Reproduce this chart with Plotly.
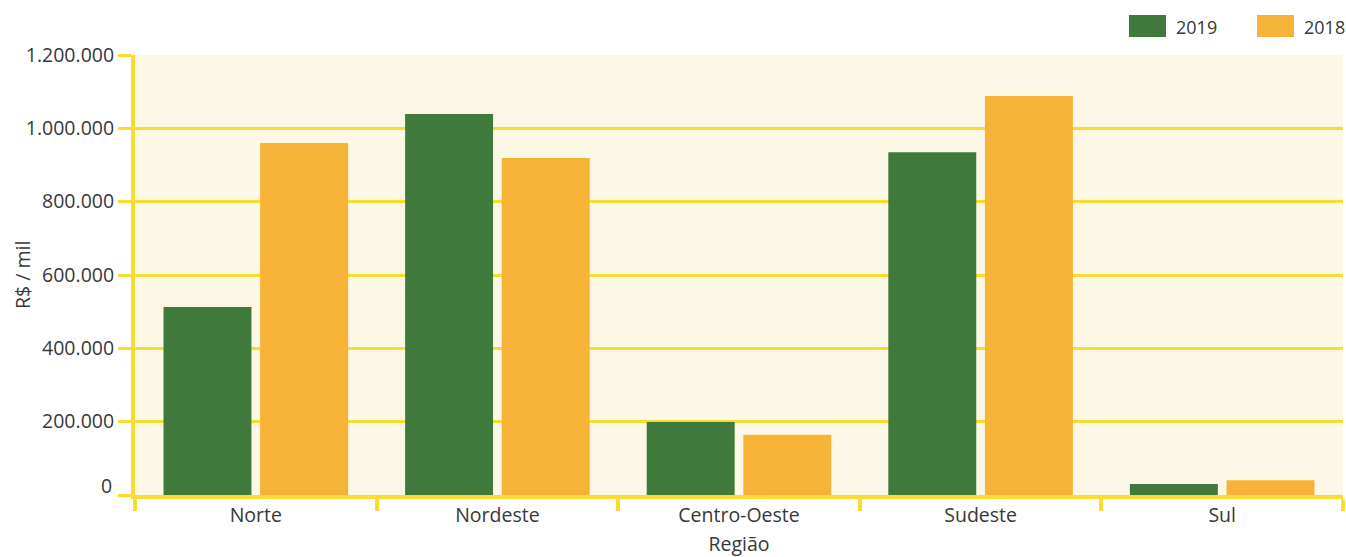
import plotly.graph_objects as go

regions = ["Norte", "Nordeste", "Centro-Oeste", "Sudeste", "Sul"]
values_2019 = [513000, 1039000, 199000, 935000, 30000]
values_2018 = [960000, 919000, 164000, 1088000, 40000]
y_tickvals = [0, 200000, 400000, 600000, 800000, 1000000, 1200000]
y_ticktext = ["", "200.000", "400.000", "600.000", "800.000", "1.000.000", "1.200.000"]

GREEN = "#3f7a3c"
ORANGE = "#f7b338"
YELLOW = "#f8dc32"
CREAM = "#fdf7e5"
TEXT = "#383838"
FONT = "Open Sans"
FS = 19.5

fig = go.Figure()
fig.add_trace(go.Bar(x=regions, y=values_2019, name="2019", marker_color=GREEN,
                     marker_line_width=0, showlegend=False))
fig.add_trace(go.Bar(x=regions, y=values_2018, name="2018", marker_color=ORANGE,
                     marker_line_width=0, showlegend=False))

L, R, T, B = 135, 3, 55, 62
W, H = 1346, 557
pw, ph = W - L - R, H - T - B

def px(x):
    return (x - L) / pw

def py(y):
    return (H - B - y) / ph

shapes = []
annotations = []
for x0, x1, color, label in [(1129, 1166, GREEN, "2019"), (1257, 1294, ORANGE, "2018")]:
    shapes.append(dict(type="rect", xref="paper", yref="paper", x0=px(x0), x1=px(x1),
                       y0=py(37), y1=py(15), fillcolor=color, line_width=0))
    annotations.append(dict(xref="paper", yref="paper", x=px(x1 + 8), y=py(27),
                            xanchor="left", yanchor="middle", text=label, showarrow=False,
                            font=dict(family=FONT, size=18, color=TEXT)))

# "0" tick label sits slightly above its gridline in the reference
annotations.append(dict(xref="paper", yref="y", x=px(114), y=0, yshift=10,
                        xanchor="right", yanchor="middle", text="0", showarrow=False,
                        font=dict(family=FONT, size=FS, color=TEXT)))
# y axis title
annotations.append(dict(xref="paper", yref="paper", x=px(22), y=0.5,
                        xanchor="center", yanchor="middle", text="R$ / mil", textangle=-90,
                        showarrow=False, font=dict(family=FONT, size=FS, color=TEXT)))

fig.update_layout(
    width=W, height=H,
    margin=dict(l=L, r=R, t=T, b=B),
    paper_bgcolor="white",
    plot_bgcolor=CREAM,
    barmode="group",
    bargap=0.2,
    bargroupgap=0.09,
    font=dict(family=FONT, size=FS, color=TEXT),
    shapes=shapes,
    annotations=annotations,
    xaxis=dict(
        showline=True, linecolor=YELLOW, linewidth=4,
        ticks="outside", tickson="boundaries", ticklen=12, tickwidth=4, tickcolor=YELLOW,
        showgrid=False,
        title=dict(text="Região", standoff=13, font=dict(size=FS)),
        tickfont=dict(size=FS),
    ),
    yaxis=dict(
        range=[0, 1200000],
        tickvals=y_tickvals, ticktext=y_ticktext,
        showline=True, linecolor=YELLOW, linewidth=4,
        ticks="outside", ticklen=13, tickwidth=3, tickcolor=YELLOW,
        showgrid=True, gridcolor=YELLOW, gridwidth=3,
        zeroline=False,
        tickfont=dict(size=FS),
    ),
)

fig.write_html("out.html")
